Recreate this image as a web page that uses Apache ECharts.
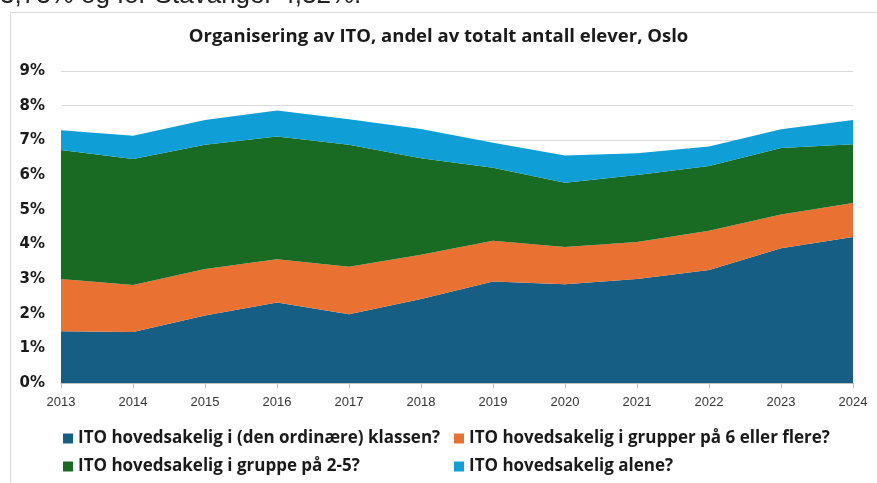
<!DOCTYPE html>
<html>
<head>
<meta charset="utf-8">
<script src="https://cdn.jsdelivr.net/npm/echarts@6/dist/echarts.min.js"></script>
<style>
html,body{margin:0;padding:0;background:#fff;}
#chart{width:877px;height:483px;}
</style>
</head>
<body>
<div id="chart"></div>
<script>
const years = ['2013','2014','2015','2016','2017','2018','2019','2020','2021','2022','2023','2024'];
const seriesNames = [
  'ITO hovedsakelig i (den ordinære) klassen?',
  'ITO hovedsakelig i grupper på 6 eller flere?',
  'ITO hovedsakelig i gruppe på 2-5?',
  'ITO hovedsakelig alene?'
];
const klassen = [1.49,1.47,1.95,2.32,1.98,2.42,2.93,2.85,3.00,3.26,3.89,4.21];
const grupper6 = [1.51,1.36,1.34,1.25,1.37,1.28,1.17,1.07,1.07,1.13,0.97,0.98];
const gruppe25 = [3.72,3.63,3.58,3.54,3.52,2.78,2.11,1.86,1.93,1.87,1.92,1.70];
const alene = [0.57,0.67,0.72,0.75,0.74,0.85,0.72,0.78,0.63,0.56,0.54,0.70];
const colors = ['#175E84','#E97132','#196B24','#0F9ED5'];
const title = 'Organisering av ITO, andel av totalt antall elever, Oslo';
const topText = '3,73% og for Stavanger 4,32%.';

const plex = '"Open Sans",Lato,sans-serif';
const values = [klassen, grupper6, gruppe25, alene];

const chart = echarts.init(document.getElementById('chart'));
const legendPos = [[58,425],[449,425],[58,453],[449,453]];
chart.setOption({
  animation:false,
  color:colors,
  graphic:[
    {type:'rect',z:-10,shape:{x:10.5,y:12.5,width:900,height:500},style:{fill:'#fff',stroke:'#d9d9d9',lineWidth:1}},
    {type:'text',left:0,top:-17,style:{text:topText,fontSize:26,fill:'#222',fontFamily:'"Liberation Sans",sans-serif'}},
    {type:'text',left:'center',top:27,style:{text:title,fontSize:18.5,fontWeight:'bold',fill:'#1a1a1a',fontFamily:plex}}
  ],
  legend: seriesNames.map((n,i)=>({
    data:[n], left:legendPos[i][0], top:legendPos[i][1],
    itemWidth:10,itemHeight:10,icon:'rect',itemGap:4,
    textStyle:{fontSize:17,fontWeight:'bold',color:'#1a1a1a',fontFamily:plex}
  })),
  grid:{left:61,right:24,top:71,bottom:100,containLabel:false},
  xAxis:{
    type:'category',data:years,boundaryGap:false,
    axisLine:{lineStyle:{color:'#bfbfbf'}},
    axisTick:{show:true,alignWithLabel:true,length:5,lineStyle:{color:'#bfbfbf'}},
    axisLabel:{color:'#333',fontSize:13,margin:13,fontFamily:'"Liberation Sans",sans-serif'}
  },
  yAxis:{
    type:'value',min:0,max:9,interval:1,
    axisLine:{show:false},axisTick:{show:false},
    splitLine:{lineStyle:{color:'#d9d9d9'}},
    axisLabel:{formatter:'{value}%',color:'#1a1a1a',fontSize:15,fontWeight:'bold',margin:16,fontFamily:'"DejaVu Sans",sans-serif'}
  },
  series: seriesNames.map((n,i)=>({
    name:n,type:'line',stack:'total',data:values[i],
    symbol:'none',lineStyle:{width:0},
    areaStyle:{color:colors[i],opacity:1},
    itemStyle:{color:colors[i]}
  }))
});
</script>
</body>
</html>
